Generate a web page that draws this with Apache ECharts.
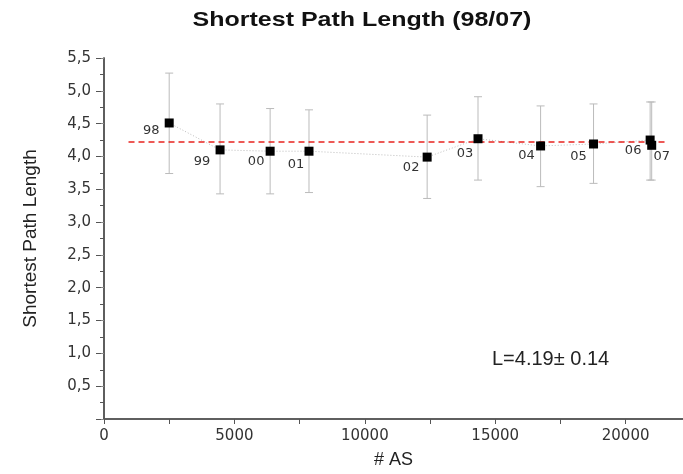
<!DOCTYPE html>
<html>
<head>
<meta charset="utf-8">
<script src="https://cdn.jsdelivr.net/npm/echarts@6/dist/echarts.min.js"></script>
<style>
  html, body { margin: 0; padding: 0; background: #fff; }
  #chart { width: 683px; height: 474px; }
</style>
</head>
<body>
<div id="chart"></div>
<script>
// numero di AS per anno e lunghezza media del cammino
const years = ['98', '99', '00', '01', '02', '03', '04', '05', '06', '07']
const asCount = [2500, 4450, 6370, 7860, 12390, 14340, 16740, 18770, 20940, 21000]
const pathLen = [4.51, 4.10, 4.08, 4.08, 3.99, 4.27, 4.16, 4.19, 4.25, 4.17]
const errHigh = [5.27, 4.80, 4.73, 4.71, 4.63, 4.91, 4.77, 4.80, 4.83, 4.83]
const errLow = [3.74, 3.43, 3.43, 3.45, 3.36, 3.64, 3.54, 3.59, 3.64, 3.64]
const meanLine = [[940, 4.22], [21520, 4.22]]

// spostamento delle etichette rispetto al punto (px)
const labelOffsets = [[-18, 8], [-18, 12], [-14, 10], [-13, 13], [-16, 11], [-13, 15], [-14, 10], [-15, 13], [-17, 11], [10, 11]]

const font = 'Liberation Sans, Arial, sans-serif'
const tickFont = 'DejaVu Sans, sans-serif'
const axisColor = '#555'

const chart = echarts.init(document.getElementById('chart'))

chart.setOption({
  animation: false,
  grid: { left: 104, top: 58, right: -1, bottom: 51 },
  graphic: [
    {
      // titolo un po' allargato come nell'originale
      type: 'text',
      x: 362,
      y: 10,
      scaleX: 1.19,
      style: {
        text: 'Shortest Path Length (98/07)',
        font: 'bold 21px ' + font,
        fill: '#111',
        textAlign: 'center',
        textVerticalAlign: 'top',
      },
    },
    {
      type: 'text',
      x: 492,
      y: 349,
      style: { text: 'L=4.19\u00b1 0.14', font: '20px ' + font, fill: '#222', textVerticalAlign: 'top' },
    },
  ],
  xAxis: [
    {
      type: 'value',
      min: 0,
      max: 22200,
      interval: 5000,
      name: '# AS',
      nameLocation: 'middle',
      nameGap: 32,
      nameTextStyle: { fontFamily: font, fontSize: 18, color: '#222' },
      splitLine: { show: false },
      axisLine: { lineStyle: { color: axisColor, width: 1.5 } },
      axisTick: { length: 5, lineStyle: { color: axisColor } },
      minorTick: { show: true, splitNumber: 2, length: 3, lineStyle: { color: axisColor } },
      axisLabel: {
        fontFamily: tickFont,
        fontSize: 15,
        color: '#333',
        margin: 10,
        showMaxLabel: false,
        formatter: (v) => String(v),
      },
    },
    {
      type: 'value',
      position: 'top',
      min: 0,
      max: 22200,
      interval: 2500,
      splitLine: { show: false },
      axisLine: { lineStyle: { color: axisColor, width: 1.5 } },
      axisTick: { inside: true, length: 5, lineStyle: { color: axisColor } },
      axisLabel: { show: false },
    },
  ],
  yAxis: [
    {
      type: 'value',
      min: 0,
      max: 5.5,
      interval: 0.5,
      name: 'Shortest Path Length',
      nameLocation: 'middle',
      nameGap: 64,
      nameTextStyle: { fontFamily: font, fontSize: 19, color: '#222' },
      splitLine: { show: false },
      axisLine: { show: true, lineStyle: { color: axisColor, width: 1.5 } },
      axisTick: { length: 8, lineStyle: { color: axisColor } },
      minorTick: { show: true, splitNumber: 2, length: 4, lineStyle: { color: axisColor } },
      axisLabel: {
        fontFamily: tickFont,
        fontSize: 15,
        color: '#333',
        margin: 13,
        showMinLabel: false,
        formatter: (v) => v.toFixed(1).replace('.', ','),
      },
    },
    {
      type: 'value',
      position: 'right',
      min: 0,
      max: 5.5,
      interval: 0.5,
      splitLine: { show: false },
      axisLine: { show: true, lineStyle: { color: axisColor, width: 1.5 } },
      axisTick: { inside: true, length: 3, lineStyle: { color: '#888' } },
      axisLabel: { show: false },
    },
  ],
  series: [
    {
      // barre d'errore
      type: 'custom',
      data: asCount.map((x, i) => [x, errLow[i], errHigh[i]]),
      renderItem: (params, api) => {
        const lo = api.coord([api.value(0), api.value(1)])
        const hi = api.coord([api.value(0), api.value(2)])
        const cap = 4
        const style = { stroke: '#bbb', lineWidth: 1 }
        return {
          type: 'group',
          children: [
            { type: 'line', shape: { x1: lo[0], y1: lo[1], x2: hi[0], y2: hi[1] }, style },
            { type: 'line', shape: { x1: hi[0] - cap, y1: hi[1], x2: hi[0] + cap, y2: hi[1] }, style },
            { type: 'line', shape: { x1: lo[0] - cap, y1: lo[1], x2: lo[0] + cap, y2: lo[1] }, style },
          ],
        }
      },
      z: 1,
    },
    {
      type: 'line',
      data: asCount.map((x, i) => [x, pathLen[i]]),
      symbol: 'none',
      lineStyle: { color: '#bbb', width: 1, type: [1, 2] },
      z: 2,
    },
    {
      type: 'line',
      data: meanLine,
      symbol: 'none',
      lineStyle: { color: '#e8231f', width: 1.5, type: [6, 4] },
      z: 3,
    },
    {
      type: 'scatter',
      data: asCount.map((x, i) => ({
        value: [x, pathLen[i]],
        label: { offset: labelOffsets[i] },
      })),
      symbol: 'rect',
      symbolSize: 9,
      itemStyle: { color: '#000', opacity: 1 },
      label: {
        show: true,
        position: 'inside',
        formatter: (p) => years[p.dataIndex],
        fontFamily: tickFont,
        fontSize: 13,
        color: '#333',
      },
      z: 4,
    },
  ],
})
</script>
</body>
</html>
